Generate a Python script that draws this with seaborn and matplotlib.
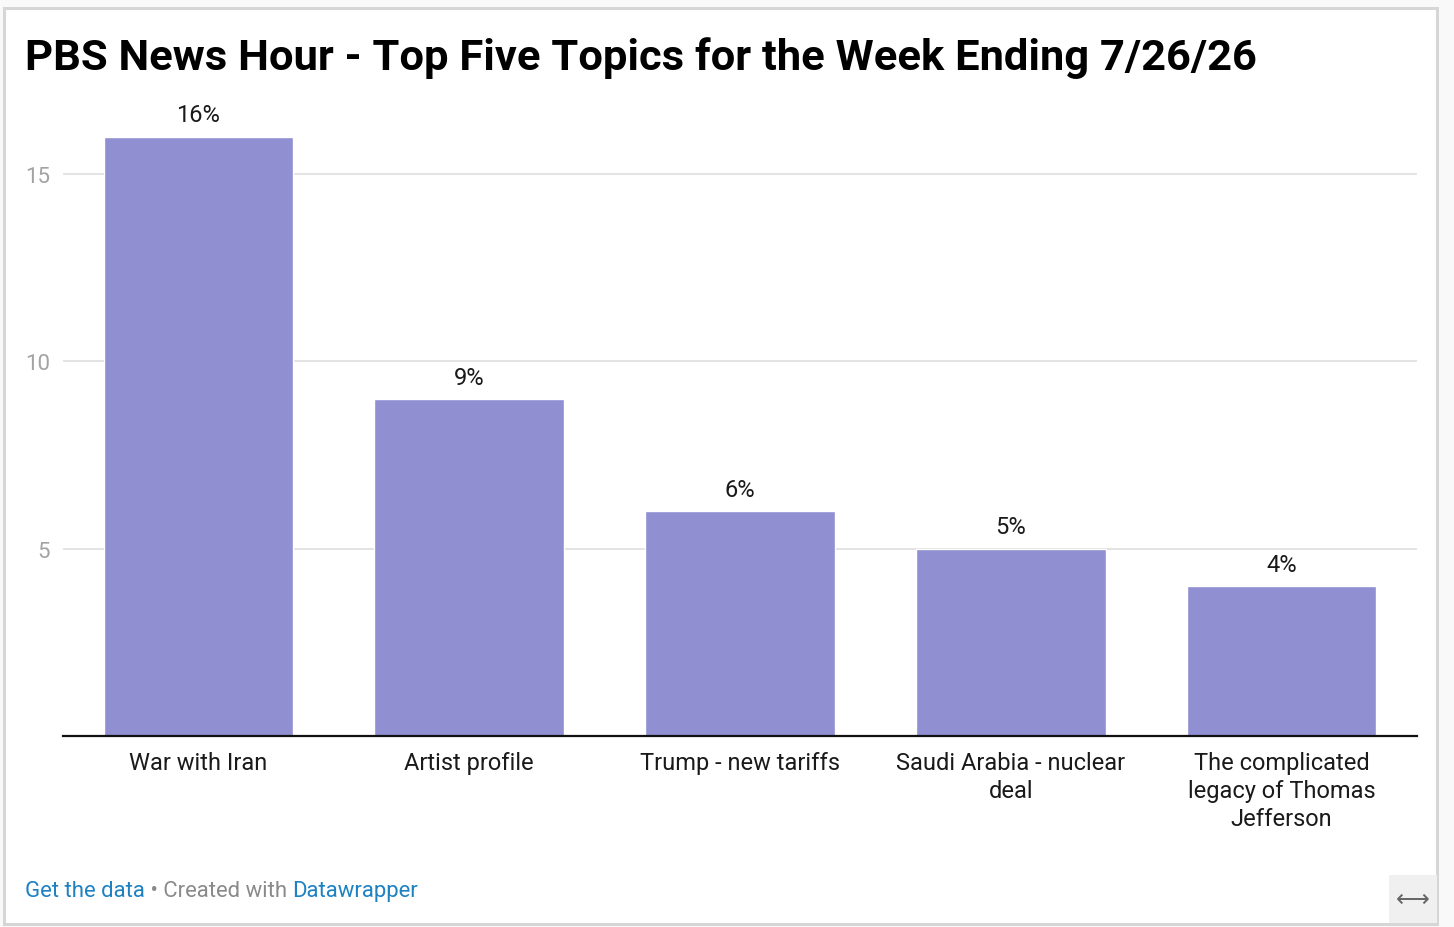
import matplotlib
matplotlib.use("Agg")
import matplotlib.pyplot as plt
import seaborn as sns
import pandas as pd
from matplotlib.patches import Rectangle

categories = ["War with Iran", "Artist profile", "Trump - new tariffs",
              "Saudi Arabia - nuclear\ndeal", "The complicated\nlegacy of Thomas\nJefferson"]
values = [16, 9, 6, 5, 4]
value_labels = ["16%", "9%", "6%", "5%", "4%"]
yticks = [5, 10, 15]
title = "PBS News Hour - Top Five Topics for the Week Ending 7/26/26"

W, H = 1454, 928
sns.set_theme(style="white")
plt.rcParams['font.family'] = ['Roboto', 'DejaVu Sans']

fig = plt.figure(figsize=(W / 100, H / 100), dpi=100)
fig.patch.set_facecolor("#f9f9f9")

def fx(px):
    return px / W

def fy(py):
    return 1 - py / H

# white card with border
fig.patches.append(Rectangle((fx(4), fy(925)), fx(1437) - fx(4), fy(9) - fy(925),
                             transform=fig.transFigure, facecolor="white",
                             edgecolor="#d6d6d6", linewidth=2.2, zorder=-10))
# arrow box
fig.patches.append(Rectangle((fx(1389), fy(924)), fx(1437) - fx(1389), fy(876) - fy(924),
                             transform=fig.transFigure, facecolor="#f0f0f0",
                             edgecolor="none", zorder=-9))

ax_left, ax_right, ax_bottom = 63, 1417, 737
unit = (737 - 175) / 15.0
ymax = 17
ax_top = ax_bottom - ymax * unit
ax = fig.add_axes([fx(ax_left), fy(ax_bottom), fx(ax_right) - fx(ax_left), fy(ax_top) - fy(ax_bottom)])
ax.set_facecolor("none")
ax.set_zorder(2)

df = pd.DataFrame({"topic": categories, "share": values})
sns.barplot(data=df, x="topic", y="share", color="#8f8fd1", saturation=1,
            width=0.7, ax=ax, zorder=3)

ax.set_xlim(-0.5, 4.5)
ax.set_ylim(0, ymax)
ax.set_yticks(yticks)
ax.set_yticklabels([str(t) for t in yticks])
ax.yaxis.grid(True, color="#e3e3e3", linewidth=1.4, zorder=0)
ax.set_axisbelow(True)
ax.tick_params(axis="y", length=0, pad=9.5, labelsize=16, labelcolor="#a3a3a3")
ax.tick_params(axis="x", length=0, pad=11, labelsize=17, labelcolor="#1a1a1a")
for lbl in ax.get_xticklabels():
    lbl.set_linespacing(1.28)
ax.set_xlabel("")
ax.set_ylabel("")
for s in ["top", "right", "left"]:
    ax.spines[s].set_visible(False)
ax.spines["bottom"].set_color("#111111")
ax.spines["bottom"].set_linewidth(1.6)
ax.spines["bottom"].set_zorder(5)

for i, (v, t) in enumerate(zip(values, value_labels)):
    ax.annotate(t, (i, v), xytext=(0, 11), textcoords="offset points",
                ha="center", va="baseline", fontsize=17, color="#1a1a1a")

fig.text(fx(25), fy(70), title, fontsize=31.3, fontweight="bold", color="#000000",
         ha="left", va="baseline")

# footer
fig.canvas.draw()
r = fig.canvas.get_renderer()
x = fx(25)
parts = [("Get the data", "#1d81c2"), (" • Created with ", "#8a8a8a"), ("Datawrapper", "#1d81c2")]
for txt, col in parts:
    t = fig.text(x, fy(897), txt, fontsize=15.9, color=col, ha="left", va="baseline")
    bb = t.get_window_extent(renderer=r)
    x += bb.width / W

fig.text(fx(1413), fy(900), "⟷", fontsize=17, color="#666666", ha="center", va="center",
         family=["DejaVu Sans"])

fig.savefig("out.png", dpi=100, facecolor=fig.get_facecolor())
